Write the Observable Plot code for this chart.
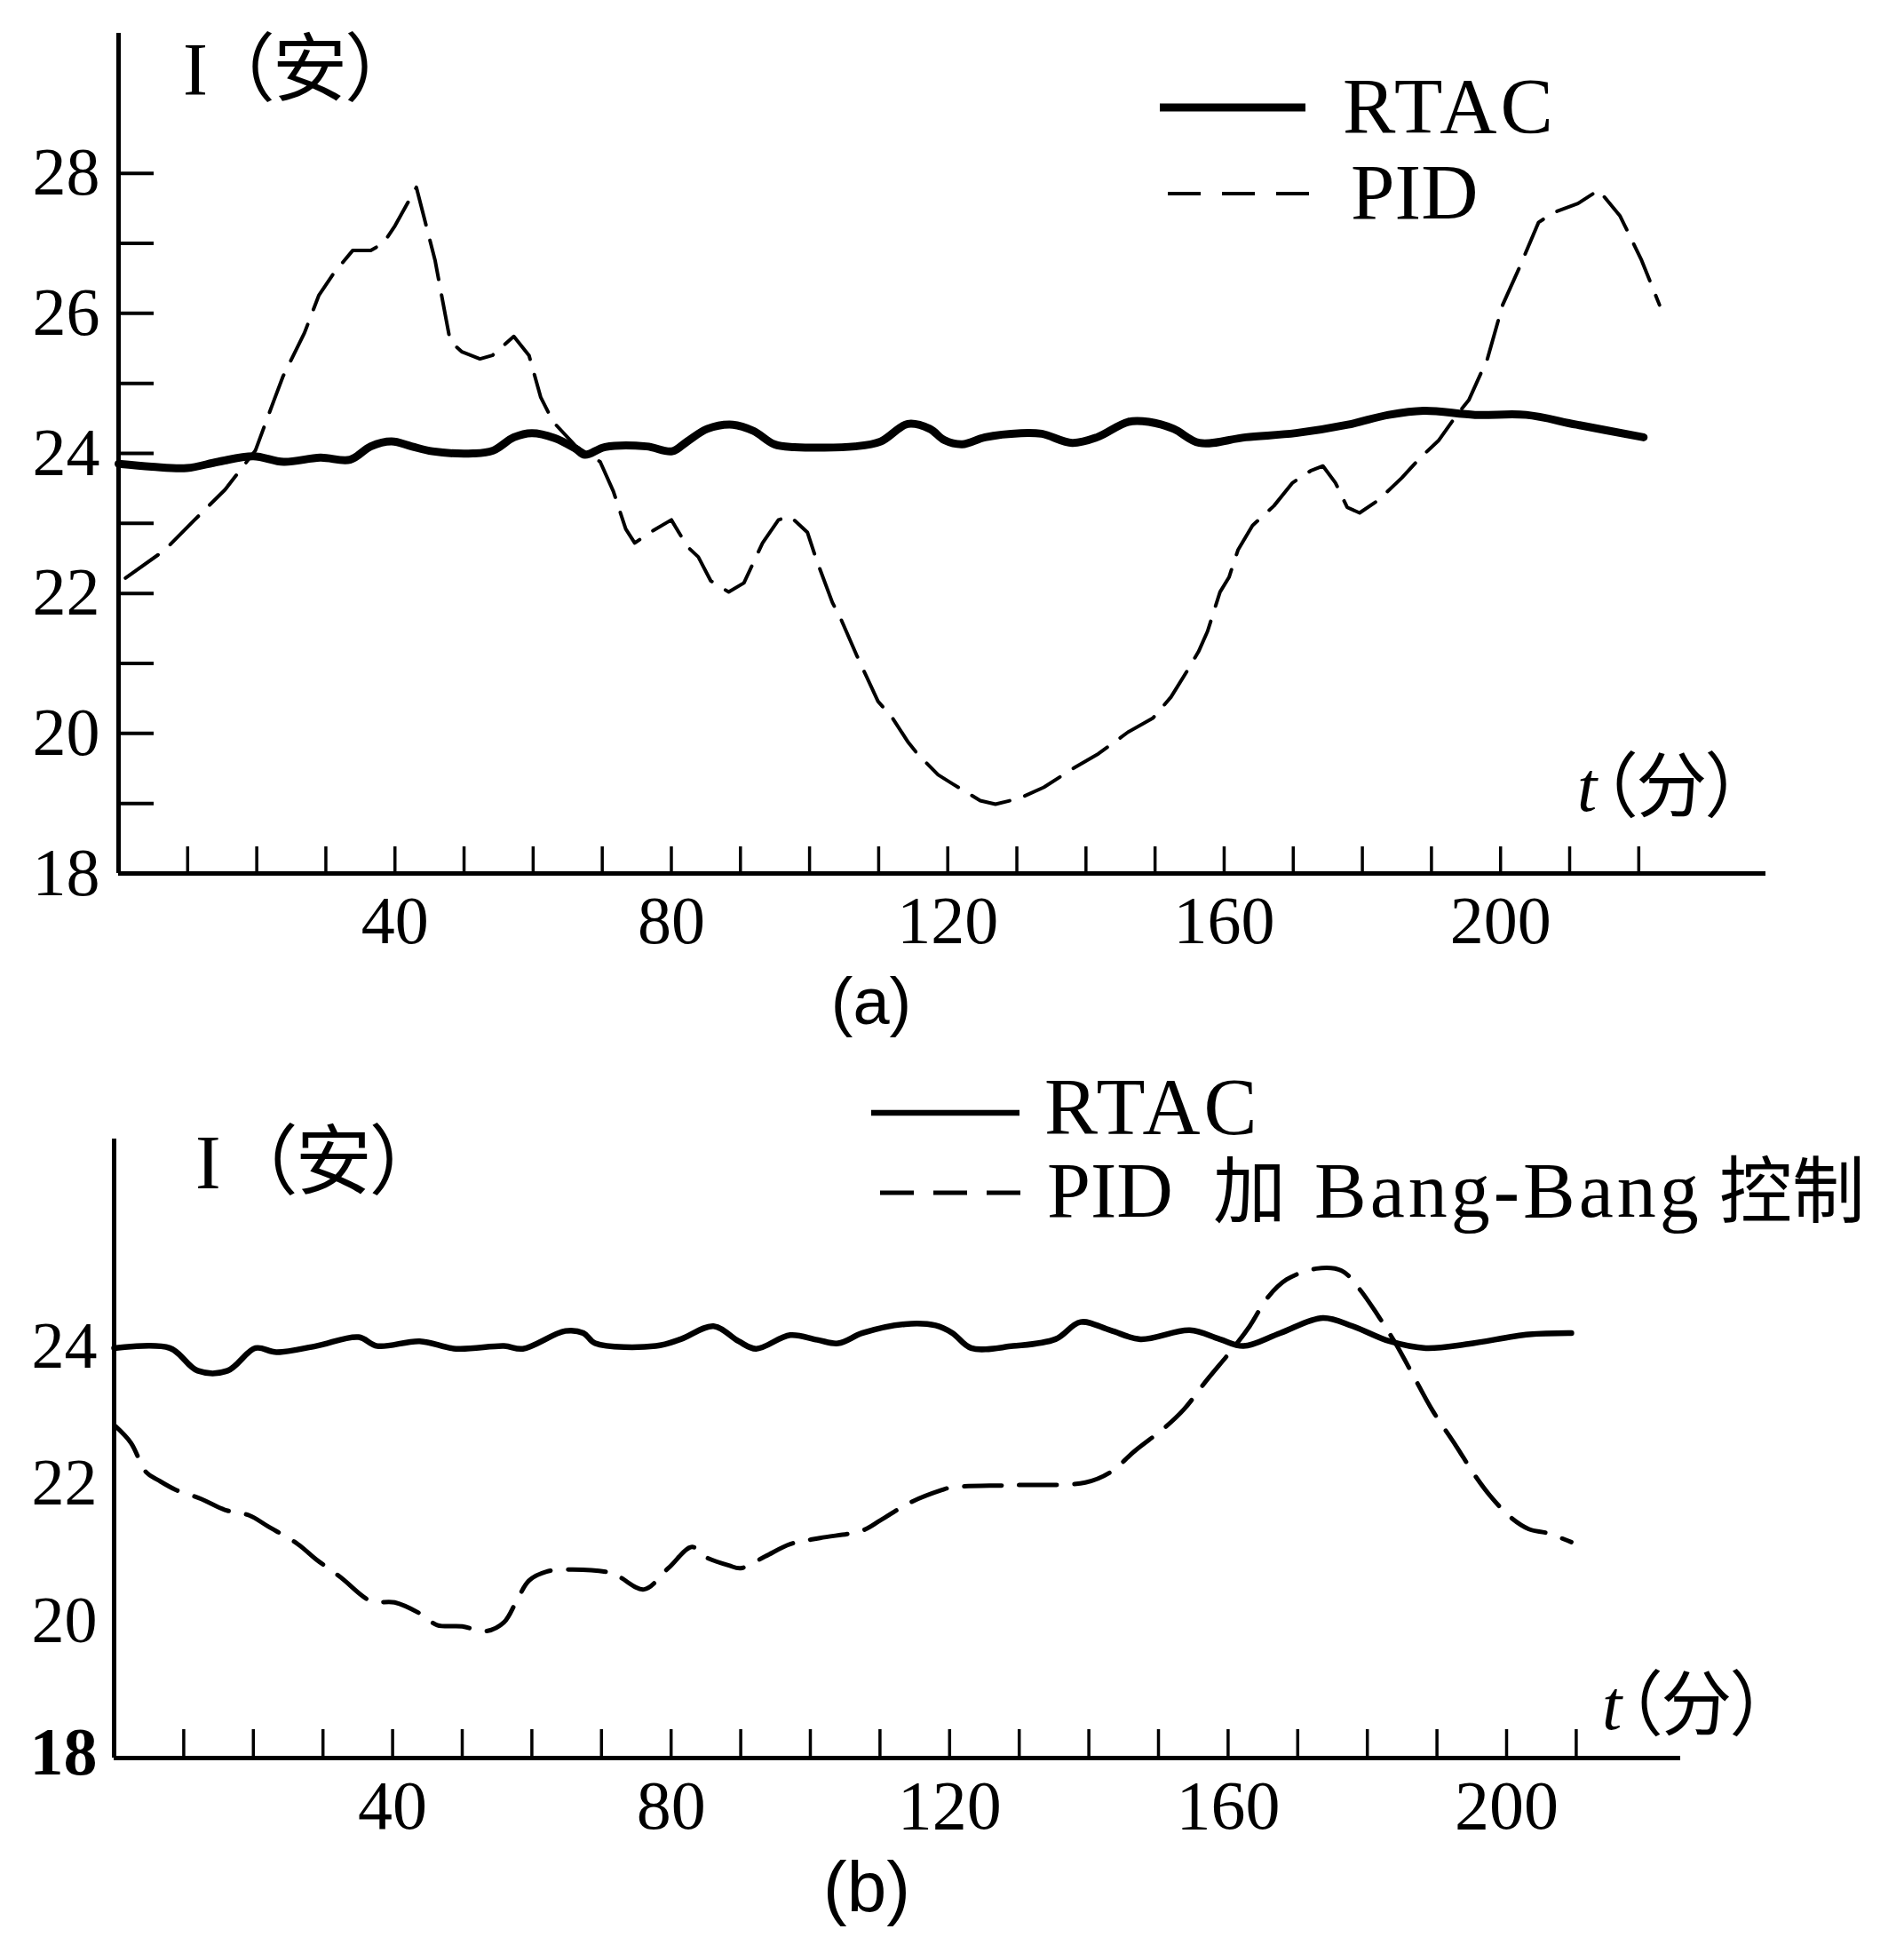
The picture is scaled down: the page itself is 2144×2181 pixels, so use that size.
<!DOCTYPE html>
<html>
<head>
<meta charset="utf-8">
<script src="https://cdn.jsdelivr.net/npm/d3@7"></script>
<script src="https://cdn.jsdelivr.net/npm/@observablehq/plot@0.6"></script>
<style>
  html, body { margin: 0; padding: 0; background: #fff; }
  #wrap { position: relative; width: 2144px; height: 2181px; overflow: hidden; background: #fff; }
  #wrap > svg { position: absolute; left: 0; }
  .cjk { font-feature-settings: "palt" 1; }
</style>
</head>
<body>
<div id="wrap"></div>
<script>
// ---------------- data ----------------
// panel (a)
const tA_RTAC = [0, 4.8, 9.9, 14.4, 19.5, 23.9, 29.2, 33.5, 36.5, 39.5, 42.4, 45.4, 51.3, 54.2, 57.2, 59.8, 63.1, 66.1, 67.5, 70.4, 76.4, 80.1, 82.3, 85.2, 88.9, 91.9, 94.9, 97.8, 106.6, 110.3, 114.2, 117.4, 119.5, 122.1, 125.4, 130.6, 133.6, 138.0, 141.6, 146.1, 149.1, 152.7, 156.4, 163.1, 170.4, 177.9, 183.8, 188.9, 196.3, 203.7, 211.0, 220.7];
const iA_RTAC = [23.85, 23.81, 23.79, 23.88, 23.96, 23.88, 23.94, 23.91, 24.10, 24.17, 24.10, 24.03, 24.00, 24.04, 24.23, 24.29, 24.22, 24.07, 23.98, 24.09, 24.10, 24.03, 24.17, 24.35, 24.41, 24.32, 24.13, 24.09, 24.10, 24.17, 24.42, 24.35, 24.19, 24.13, 24.23, 24.29, 24.28, 24.15, 24.23, 24.45, 24.45, 24.35, 24.15, 24.23, 24.29, 24.41, 24.55, 24.61, 24.55, 24.55, 24.41, 24.23];
const tA_PID = [1.0, 6.7, 11.0, 15.4, 19.8, 22.5, 23.8, 26.9, 29.0, 31.2, 33.9, 36.5, 38.3, 40.0, 43.1, 45.8, 48.0, 49.7, 52.3, 54.1, 57.2, 59.4, 61.1, 62.9, 66.2, 69.7, 71.6, 73.4, 74.7, 77.4, 80.0, 82.3, 83.9, 85.7, 88.3, 90.5, 93.2, 95.5, 97.2, 99.7, 101.0, 103.3, 104.6, 106.8, 109.9, 112.0, 114.3, 115.6, 118.6, 120.7, 124.7, 126.9, 130.3, 133.9, 138.3, 141.8, 146.1, 149.7, 152.3, 154.5, 156.3, 157.6, 159.4, 160.7, 162.0, 164.1, 167.2, 169.9, 172.5, 174.3, 176.1, 177.8, 179.6, 182.3, 185.7, 188.3, 191.0, 193.6, 195.4, 198.1, 200.3, 202.8, 205.5, 207.7, 211.2, 214.2, 217.3, 220.4, 223.0];
const iA_PID = [22.22, 22.62, 23.05, 23.48, 24.04, 24.76, 25.10, 25.72, 26.26, 26.58, 26.90, 26.90, 27.00, 27.25, 27.80, 26.76, 25.60, 25.45, 25.35, 25.40, 25.67, 25.40, 24.80, 24.45, 24.10, 23.88, 23.46, 22.92, 22.72, 22.90, 23.05, 22.67, 22.52, 22.18, 22.02, 22.15, 22.72, 23.05, 23.10, 22.87, 22.48, 21.87, 21.62, 21.12, 20.46, 20.22, 19.87, 19.71, 19.41, 19.28, 19.04, 18.99, 19.07, 19.23, 19.51, 19.71, 20.02, 20.22, 20.52, 20.87, 21.17, 21.46, 22.02, 22.23, 22.62, 22.97, 23.25, 23.58, 23.75, 23.82, 23.58, 23.23, 23.15, 23.33, 23.65, 23.93, 24.18, 24.54, 24.76, 25.35, 26.12, 26.67, 27.30, 27.44, 27.57, 27.76, 27.39, 26.76, 26.12];

// panel (b)
const tB_RTAC = [0, 8.0, 12.0, 16.3, 20.3, 23.3, 29.0, 35.1, 37.8, 43.9, 49.1, 56.0, 58.7, 64.8, 67.4, 69.1, 77.8, 81.4, 86.1, 89.7, 92.2, 97.1, 101.0, 104.0, 107.5, 113.6, 118.0, 120.4, 123.1, 129.1, 135.2, 138.8, 143.1, 147.4, 154.5, 158.8, 162.2, 167.5, 173.6, 177.9, 183.2, 188.4, 194.5, 203.2, 209.3];
const iB_RTAC = [23.98, 23.98, 23.65, 23.65, 23.98, 23.92, 24.01, 24.14, 24.01, 24.08, 23.97, 24.01, 23.97, 24.23, 24.20, 24.05, 24.01, 24.11, 24.30, 24.08, 23.97, 24.17, 24.10, 24.05, 24.20, 24.33, 24.31, 24.20, 23.98, 24.01, 24.11, 24.36, 24.24, 24.11, 24.24, 24.11, 24.01, 24.20, 24.42, 24.30, 24.08, 23.98, 24.04, 24.18, 24.20];
const tB_PID = [0.2, 2.4, 4.6, 6.4, 8.9, 12.5, 15.9, 19.4, 22.1, 26.4, 29.0, 32.5, 36.9, 40.3, 43.9, 46.4, 50.0, 53.4, 56.0, 57.8, 59.6, 62.1, 65.7, 70.9, 72.6, 76.1, 79.6, 83.0, 84.8, 88.3, 90.0, 93.5, 97.1, 101.4, 107.5, 110.1, 114.4, 118.9, 120.4, 129.1, 139.5, 143.1, 146.6, 150.9, 153.6, 157.0, 160.5, 163.1, 165.7, 168.4, 172.7, 176.3, 178.8, 181.5, 184.1, 186.7, 189.3, 192.7, 195.4, 197.6, 200.6, 203.2, 205.9, 209.3];
const iB_PID = [22.84, 22.60, 22.17, 22.05, 21.91, 21.78, 21.62, 21.54, 21.38, 21.12, 20.90, 20.64, 20.29, 20.27, 20.11, 19.94, 19.92, 19.85, 19.98, 20.29, 20.59, 20.72, 20.75, 20.71, 20.64, 20.46, 20.77, 21.08, 20.94, 20.81, 20.77, 20.94, 21.12, 21.21, 21.32, 21.47, 21.73, 21.91, 21.95, 21.98, 22.02, 22.17, 22.48, 22.82, 23.08, 23.52, 23.95, 24.30, 24.72, 24.98, 25.14, 25.11, 24.85, 24.46, 24.04, 23.56, 23.08, 22.56, 22.13, 21.83, 21.51, 21.34, 21.28, 21.15];

// ticks and labels
const xLabelTicks = [40, 80, 120, 160, 200];
const xMinorA = [10, 20, 30, 40, 50, 60, 70, 80, 90, 100, 110, 120, 130, 140, 150, 160, 170, 180, 190, 200, 210, 220];
const xMinorB = [10, 20, 30, 40, 50, 60, 70, 80, 90, 100, 110, 120, 130, 140, 150, 160, 170, 180, 190, 200, 210];
const yLabelsA = [18, 20, 22, 24, 26, 28];
const yMinorA = [19, 20, 21, 22, 23, 24, 25, 26, 27, 28];
const yLabelsB = [20, 22, 24];
const yOriginB = [18];

// texts
const yTitleVar = "I";
const yTitleUnit = "（安）";
const xTitleVar = "t";
const xTitleUnit = "（分）";
const legendA = ["RTAC", "PID"];
const legendB = ["RTAC", "PID ", "加 ", "Bang-Bang", "控制"];
const captions = ["(a)", "(b)"];

// ---------------- build ----------------
const zip = (ts, is) => ts.map((t, k) => ({t, I: is[k]}));
const A_RTAC = zip(tA_RTAC, iA_RTAC), A_PID = zip(tA_PID, iA_PID);
const B_RTAC = zip(tB_RTAC, iB_RTAC), B_PID = zip(tB_PID, iB_PID);

const serif = "'Liberation Serif', 'DejaVu Serif', serif";
const cjk = "'Noto Sans CJK SC', sans-serif";
const intFmt = d3.format("d");
const wrap = document.getElementById("wrap");

// panel (a)
const aH = 1100, aML = 133, aMR = 156, aMT = 37, aMB = 117;
const aPlotW = 2144 - aML - aMR, aPlotH = aH - aMT - aMB;
const plotA = Plot.plot({
  width: 2144, height: aH,
  marginLeft: aML, marginRight: aMR, marginTop: aMT, marginBottom: aMB,
  x: {domain: [0, 238.4]},
  y: {domain: [18, 30]},
  style: {fontFamily: serif, color: "#000", background: "#fff"},
  marks: [
    Plot.axisX(xLabelTicks, {tickSize: 0, tickPadding: 25, fontSize: 76, tickFormat: intFmt, label: null}),
    Plot.axisY(yLabelsA, {tickSize: 0, tickPadding: 21, fontSize: 76, tickFormat: intFmt, label: null}),
    Plot.tickX(xMinorA, {x: d => d, insetTop: aPlotH - 30, stroke: "#000", strokeWidth: 3.5}),
    Plot.tickY(yMinorA, {y: d => d, insetRight: aPlotW - 40, stroke: "#000", strokeWidth: 4}),
    Plot.ruleX([0], {stroke: "#000", strokeWidth: 5}),
    Plot.ruleY([18], {stroke: "#000", strokeWidth: 5}),
    Plot.line(A_PID, {x: "t", y: "I", stroke: "#000", strokeWidth: 4, strokeDasharray: "45,18"}),
    Plot.line(A_RTAC, {x: "t", y: "I", curve: "catmull-rom", stroke: "#000", strokeWidth: 9, strokeLinejoin: "round", strokeLinecap: "round"})
  ]
});
plotA.style.top = "0px";
wrap.appendChild(plotA);

// panel (b)
const bTop = 1100, bH = 1081, bML = 128, bMR = 252, bMT = 182, bMB = 202;
const bPlotW = 2144 - bML - bMR, bPlotH = bH - bMT - bMB;
const plotB = Plot.plot({
  width: 2144, height: bH,
  marginLeft: bML, marginRight: bMR, marginTop: bMT, marginBottom: bMB,
  x: {domain: [0, 225]},
  y: {domain: [18, 27.03]},
  style: {fontFamily: serif, color: "#000", background: "transparent"},
  marks: [
    Plot.axisX(xLabelTicks, {tickSize: 0, tickPadding: 24, fontSize: 78, tickFormat: intFmt, label: null}),
    Plot.axisY(yLabelsB, {tickSize: 0, tickPadding: 19, fontSize: 74, tickFormat: intFmt, label: null}),
    Plot.axisY(yOriginB, {tickSize: 0, tickPadding: 19, fontSize: 76, fontWeight: "bold", tickFormat: intFmt, label: null, dy: -6}),
    Plot.tickX(xMinorB, {x: d => d, insetTop: bPlotH - 32, stroke: "#000", strokeWidth: 3.5}),
    Plot.ruleX([0], {stroke: "#000", strokeWidth: 5}),
    Plot.ruleY([18], {stroke: "#000", strokeWidth: 5}),
    Plot.line(B_PID, {x: "t", y: "I", curve: "catmull-rom", stroke: "#000", strokeWidth: 5, strokeDasharray: "42,20"}),
    Plot.line(B_RTAC, {x: "t", y: "I", curve: "catmull-rom", stroke: "#000", strokeWidth: 6.5, strokeLinejoin: "round", strokeLinecap: "round"})
  ]
});
plotB.style.top = bTop + "px";
wrap.appendChild(plotB);

// overlay: titles, legends, captions
const ov = d3.select(wrap).append("svg")
  .attr("width", 2144).attr("height", 2181)
  .style("top", "0px").style("pointer-events", "none");

function addText(x, y, str, size, family, extra = {}) {
  const t = ov.append("text").attr("x", x).attr("y", y)
    .attr("font-size", size).attr("font-family", family).attr("fill", "#000").text(str);
  for (const k in extra) t.attr(k, extra[k]);
  return t;
}

// axis titles: variable (serif) + unit (CJK, proportional parentheses)
function title(x, y, size, v, unit, gap, italic) {
  const t = ov.append("text").attr("x", x).attr("y", y).attr("font-size", size).attr("fill", "#000");
  t.append("tspan").attr("font-family", serif).attr("font-style", italic ? "italic" : "normal").text(v);
  t.append("tspan").attr("class", "cjk").attr("font-family", cjk).attr("dx", gap).text(unit);
}
title(206, 107, 84, yTitleVar, yTitleUnit, 31, false);
title(220, 1338, 86, yTitleVar, yTitleUnit, 41, false);
title(1776, 913, 80, xTitleVar, xTitleUnit, 4, true);
title(1804, 1947, 80, xTitleVar, xTitleUnit, 4, true);

// legend (a)
ov.append("line").attr("x1", 1306).attr("x2", 1470).attr("y1", 121).attr("y2", 121)
  .attr("stroke", "#000").attr("stroke-width", 9);
ov.append("line").attr("x1", 1315).attr("x2", 1475).attr("y1", 218).attr("y2", 218)
  .attr("stroke", "#000").attr("stroke-width", 4).attr("stroke-dasharray", "37,24");
addText(1512, 149, legendA[0], 89, serif, {"letter-spacing": 4});
addText(1521, 246, legendA[1], 89, serif);

// legend (b)
ov.append("line").attr("x1", 981).attr("x2", 1148).attr("y1", 1253).attr("y2", 1253)
  .attr("stroke", "#000").attr("stroke-width", 6.5);
ov.append("line").attr("x1", 991).attr("x2", 1152).attr("y1", 1343).attr("y2", 1343)
  .attr("stroke", "#000").attr("stroke-width", 5).attr("stroke-dasharray", "38,22");
addText(1176, 1277, legendB[0], 90, serif, {"letter-spacing": 4});
{
  const t = ov.append("text").attr("y", 1370).attr("font-size", 88).attr("fill", "#000");
  t.append("tspan").attr("x", 1179).attr("font-family", serif).text(legendB[1]);
  t.append("tspan").attr("x", 1366).attr("font-family", cjk).attr("font-size", 82).text(legendB[2]);
  t.append("tspan").attr("x", 1480).attr("font-family", serif).attr("letter-spacing", 4).text(legendB[3]);
  t.append("tspan").attr("x", 1936).attr("font-family", cjk).attr("font-size", 82).text(legendB[4]);
}

// captions
addText(981, 1153, captions[0], 74, "'Liberation Sans', Arial, sans-serif", {"text-anchor": "middle"});
addText(976, 2152, captions[1], 80, "'Liberation Sans', Arial, sans-serif", {"text-anchor": "middle"});
</script>
</body>
</html>
